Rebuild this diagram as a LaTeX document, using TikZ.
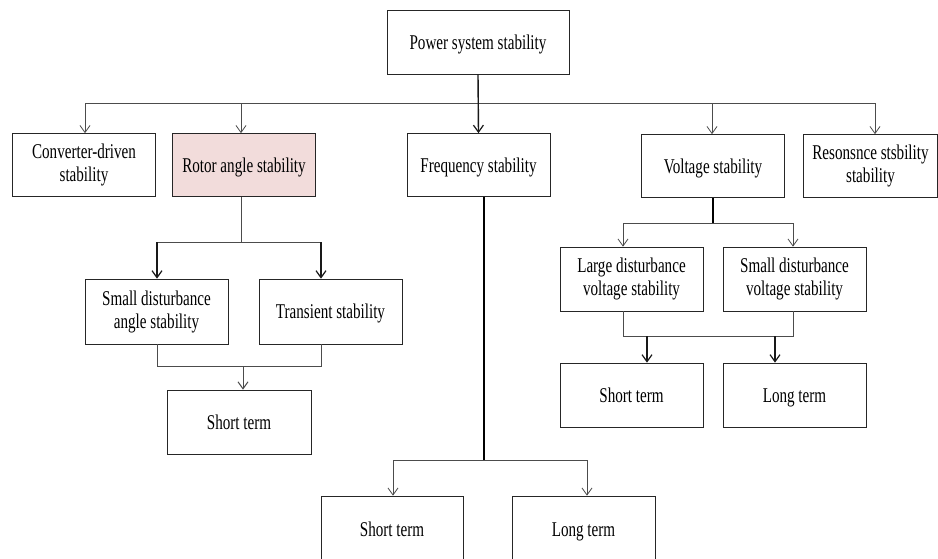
\documentclass[tikz,border=0pt]{standalone}
\usepackage{fontspec}
\setmainfont{Liberation Serif}[FakeStretch=0.72]
\usetikzlibrary{arrows.meta}

\begin{document}
\begin{tikzpicture}[x=1pt, y=-1pt,
  box/.style={draw=black!85, line width=0.7pt, minimum width=143pt, minimum height=63pt,
    align=center, inner sep=2pt, font=\fontsize{21}{23}\selectfont},
  onebox/.style={box, text height=18pt, text depth=4pt},
  link/.style={draw=black!70, line width=0.8pt},
  arr/.style={link, -{Straight Barb[length=7pt, width=10pt]}},
  barr/.style={draw=black!90, line width=1.4pt, -{Straight Barb[length=7pt, width=10pt, line width=1.2pt]}}]

\clip (0,0) rectangle (938,558);
\fill [white] (0,0) rectangle (938,558);

% top level
\node [onebox, minimum width=182pt, minimum height=64pt] (pss) at (478,42) {Power system stability};

\node [box] (conv)  at (84,165)  {Converter-driven\\stability};
\node [onebox, fill={rgb,255:red,242;green,220;blue,219}] (rotor) at (244,165) {Rotor angle stability};
\node [onebox] (freq)  at (478.5,165) {Frequency stability};
\node [onebox] (volt)  at (713,166) {Voltage stability};
\node [box, minimum width=134pt] (reso) at (870.5,166) {Resonsnce stsbility\\stability};

% rotor angle branch
\node [box, minimum height=65pt] (sdas)  at (156.5,311.5) {Small disturbance\\angle stability};
\node [onebox, minimum height=65pt] (trans) at (330.5,311.5) {Transient stability};
\node [onebox, minimum width=144pt, minimum height=64pt] (rst) at (239,422) {Short term};

% voltage branch
\node [box, minimum height=64pt] (lvs) at (631.5,279) {Large disturbance\\voltage stability};
\node [box, minimum height=64pt] (svs) at (794.5,279) {Small disturbance\\voltage stability};
\node [onebox, minimum height=64pt] (vst) at (631.5,395) {Short term};
\node [onebox, minimum height=64pt] (vlt) at (794.5,395) {Long term};

% frequency branch
\node [onebox, minimum width=142pt, minimum height=66pt] (fst) at (392,529) {Short term};
\node [onebox, minimum width=143pt, minimum height=66pt] (flt) at (583.5,529) {Long term};

\coordinate (b1) at (85,103);
\coordinate (b2) at (241,103);
\coordinate (b3) at (712,103);
\coordinate (b4) at (875,103);

\draw [link] (b1) -- (b4);
\draw [arr] (b1) -- (b1 |- conv.north);
\draw [arr] (b2) -- (b2 |- rotor.north);
\draw [arr] (b3) -- (b3 |- volt.north);
\draw [arr] (b4) -- (b4 |- reso.north);
\draw [barr] (pss.south) -- (freq.north);

% rotor angle links
\coordinate (rj1) at (157,242);
\coordinate (rj2) at (321,242);
\coordinate (rk1) at (157,366);
\coordinate (rk2) at (321,366);
\coordinate (rk) at (243,366);
\draw [link] (rj1 -| b2) -- (b2 |- rotor.south);
\draw [link] (rj1) -- (rj2);
\draw [barr] (rj1) -- (rj1 |- sdas.north);
\draw [barr] (rj2) -- (rj2 |- trans.north);
\draw [link] (rk1 |- sdas.south) -- (rk1) -- (rk2) -- (rk2 |- trans.south);
\draw [arr, line width=1pt] (rk) -- (rk |- rst.north);

% voltage links
\coordinate (vj1) at (623,223);
\coordinate (vj2) at (793,223);
\coordinate (vk1) at (623,336);
\coordinate (vk2) at (793,336);
\coordinate (vk3) at (647,336);
\coordinate (vk4) at (775,336);
\draw [draw=black, line width=1.2pt] (volt.south) -- (volt.south |- vj1);
\draw [link] (vj1) -- (vj2);
\draw [arr] (vj1) -- (vj1 |- lvs.north);
\draw [arr] (vj2) -- (vj2 |- svs.north);
\draw [link] (vk1 |- lvs.south) -- (vk1) -- (vk2) -- (vk2 |- svs.south);
\draw [barr] (vk3) -- (vk3 |- vst.north);
\draw [barr] (vk4) -- (vk4 |- vlt.north);

% frequency links
\coordinate (fj) at (484,460);
\coordinate (fj1) at (393,460);
\coordinate (fj2) at (587,460);
\draw [draw=black, line width=1.4pt] (fj |- freq.south) -- (fj);
\draw [link] (fj1) -- (fj2);
\draw [arr] (fj1) -- (fj1 |- fst.north);
\draw [arr] (fj2) -- (fj2 |- flt.north);

\end{tikzpicture}
\end{document}
